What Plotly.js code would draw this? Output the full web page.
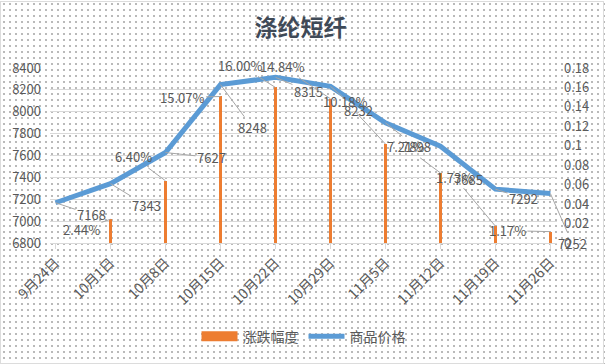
<!DOCTYPE html>
<html>
<head>
<meta charset="utf-8">
<script src="https://cdn.plot.ly/plotly-3.0.1.min.js"></script>
<style>
html,body{margin:0;padding:0;}
body{width:607px;height:364px;overflow:hidden;background:#fff;}
#wrap{position:relative;width:607px;height:364px;
 background-image:radial-gradient(circle,#b8b8b8 0.7px,rgba(255,255,255,0) 1px);
 background-size:6px 6px;background-position:1px 1px;}
#border{position:absolute;left:0;top:1px;width:602px;height:361px;border:1px solid #dcdcdc;pointer-events:none;}
#chart{position:absolute;left:0;top:0;width:607px;height:364px;}
</style>
</head>
<body>
<div id="wrap"><div id="border"></div><div id="chart"></div></div>
<script>
// ---- data ----
const categories = ['9月24日','10月1日','10月8日','10月15日','10月22日','10月29日','11月5日','11月12日','11月19日','11月26日'];
const priceValues = [7168, 7343, 7627, 8248, 8315, 8232, 7898, 7685, 7292, 7252];
const changeCategories = ['10月1日','10月8日','10月15日','10月22日','10月29日','11月5日','11月12日','11月19日','11月26日'];
const changeValues = [0.0244, 0.0640, 0.1507, 0.1600, 0.1484, 0.1018, 0.0721, 0.0173, 0.0117];
const rightTickVals = [0,0.02,0.04,0.06,0.08,0.1,0.12,0.14,0.16,0.18];
const rightTickText = ['0','0.02','0.04','0.06','0.08','0.1','0.12','0.14','0.16','0.18'];

// ---- label placement (pixel offsets of data labels from their marks) ----
const priceLabelOffsets = [[36,12],[36,22],[46,5],[32,43],[33,14],[28,24],[31,24],[28,33],[28,9],[22,50]];
const changeLabelOffsets = [[-29,10],[-32,-24],[-38,1],[-35,-22],[-48,-32],[-40,-43],[-35,-26],[-41,-49],[-43,-1]];

const textColor = '#595959';
const fontFam = '"Noto Sans CJK SC", "Noto Sans", "DejaVu Sans", sans-serif';
const barColor = '#ED7D31';

const barTrace = {
  type:'bar', name:'涨跌幅度', x:changeCategories, y:changeValues,
  yaxis:'y', width:0.065, showlegend:false, legendgroup:'chg',
  marker:{color:barColor, line:{width:0}},
  hoverinfo:'skip'
};
// legend entry for the bar series drawn as a wide swatch (no data drawn)
const barLegendTrace = {
  type:'scatter', mode:'lines', name:'涨跌幅度', x:[null], y:[null],
  yaxis:'y', legendgroup:'chg', showlegend:true,
  line:{color:barColor, width:10}, hoverinfo:'skip'
};
const lineTrace = {
  type:'scatter', mode:'lines', name:'商品价格', x:categories, y:priceValues,
  yaxis:'y2', line:{color:'#5B9BD5', width:5},
  hoverinfo:'skip'
};

const annotations = [];
priceValues.forEach((v,i)=>{
  annotations.push({
    x:categories[i], y:v, xref:'x', yref:'y2', text:String(v),
    showarrow:true, arrowhead:0, arrowwidth:1, arrowcolor:'#a6a6a6', standoff:0,
    ax:priceLabelOffsets[i][0], ay:priceLabelOffsets[i][1],
    font:{family:fontFam, size:13, color:textColor}
  });
});
changeValues.forEach((v,i)=>{
  annotations.push({
    x:changeCategories[i], y:v, xref:'x', yref:'y', text:(v*100).toFixed(2)+'%',
    showarrow:true, arrowhead:0, arrowwidth:1, arrowcolor:'#a6a6a6', standoff:0,
    ax:changeLabelOffsets[i][0], ay:changeLabelOffsets[i][1],
    font:{family:fontFam, size:13, color:textColor}
  });
});

const layout = {
  width:607, height:364, autosize:false,
  margin:{l:50, r:50, t:68, b:121, pad:0},
  paper_bgcolor:'rgba(0,0,0,0)', plot_bgcolor:'rgba(0,0,0,0)',
  font:{family:fontFam, color:textColor, size:13},
  title:{text:'<b>涤纶短纤</b>', x:0.495, xanchor:'center', yref:'container', y:0.922, yanchor:'middle',
         font:{family:'"Noto Sans CJK SC", sans-serif', size:23, color:'#3f4a57'}},
  showlegend:true,
  legend:{orientation:'h', x:0.5, xanchor:'center', yref:'container', y:0.075, yanchor:'middle',
          font:{family:fontFam, size:14, color:textColor}, bgcolor:'rgba(0,0,0,0)', itemwidth:36,
          traceorder:'normal'},
  xaxis:{type:'category', categoryorder:'array', categoryarray:categories,
         range:[-0.1, 9.12], tickangle:-45, showgrid:false,
         showline:true, linecolor:'#d9d9d9', linewidth:1,
         ticks:'outside', ticklen:5, tickcolor:'#d9d9d9',
         tickfont:{family:fontFam, size:14, color:textColor}, fixedrange:true},
  yaxis:{side:'right', range:[0,0.18], tickvals:rightTickVals, ticktext:rightTickText,
         showgrid:false, zeroline:false, showline:false, ticks:'',
         tickfont:{family:fontFam, size:13, color:textColor}, ticklabelstandoff:6, fixedrange:true},
  yaxis2:{overlaying:'y', side:'left', range:[6800,8400], dtick:200, tick0:6800,
          showgrid:true, gridcolor:'#d9d9d9', gridwidth:1, zeroline:false, showline:false, ticks:'',
          tickfont:{family:fontFam, size:13, color:textColor}, ticklabelstandoff:8, fixedrange:true},
  bargap:0,
  annotations:annotations
};

Plotly.newPlot('chart', [barTrace, barLegendTrace, lineTrace], layout, {displayModeBar:false, staticPlot:true});
</script>
</body>
</html>
